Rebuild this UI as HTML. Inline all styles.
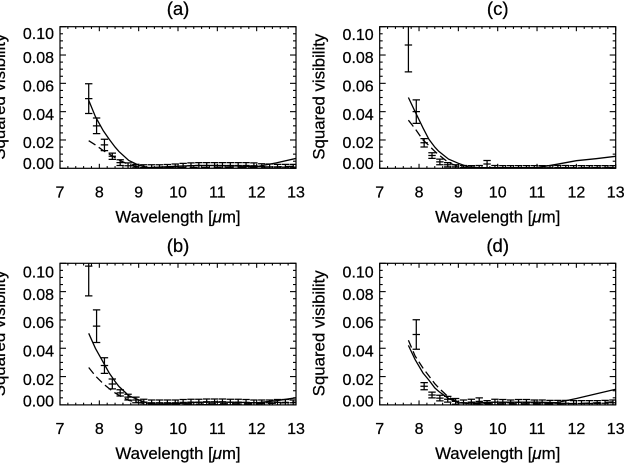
<!DOCTYPE html>
<html>
<head>
<meta charset="utf-8">
<title>Squared visibility panels</title>
<style>
html,body{margin:0;padding:0;background:#fff;}
svg{display:block;}
text{font-family:"Liberation Sans",sans-serif;font-size:16px;fill:#000;stroke:#000;stroke-width:0.25px;}
text.title{font-size:18.5px;}
text.axis-title{font-size:16.8px;}
</style>
</head>
<body>
<svg id="chart" xmlns="http://www.w3.org/2000/svg" width="624" height="463" viewBox="0 0 624 463"></svg>
<script>
const xTicks = [7, 8, 9, 10, 11, 12, 13];
const yTicks = [0, 0.02, 0.04, 0.06, 0.08, 0.10];
const yTickLabels = ['0.00', '0.02', '0.04', '0.06', '0.08', '0.10'];
const wavelengths = [7.73,7.93,8.13,8.33,8.53,8.73,8.93,9.13,9.33,9.53,9.73,9.93,10.13,10.33,10.53,10.73,10.93,11.13,11.33,11.53,11.73,11.93,12.13,12.33,12.53,12.73,12.93];
const modelWavelengths = [7.73,7.9,8.1,8.25,8.4,8.5,8.75,9,9.25,9.5,10,10.5,11,11.5,12,12.5,13];

const visA = [0.0492,0.0300,0.0165,0.0085,0.0040,0.0018,0.0008,0.0005,0.0005,0.0005,0.0007,0.0010,0.0015,0.0018,0.0020,0.0020,0.0020,0.0020,0.0020,0.0020,0.0020,0.0018,0.0012,0.0010,0.0008,0.0008,0.0008];
const errA = [0.0105,0.0055,0.0040,0.0022,0.0020,0.0020,0.0020,0.0020,0.0020,0.0020,0.0020,0.0020,0.0020,0.0020,0.0020,0.0020,0.0020,0.0020,0.0020,0.0020,0.0020,0.0020,0.0020,0.0020,0.0020,0.0020,0.0020];
const solidA = [0.0480,0.0365,0.0265,0.0205,0.0150,0.0118,0.0055,0.0022,0.0006,0.0008,0.0015,0.0020,0.0020,0.0016,0.0012,0.0038,0.0070];
const dashedA = [0.0195,0.0165,0.0125,0.0100,0.0075,0.0058,0.0027,0.0010,0.0003,0.0003,0.0004,0.0006,0.0007,0.0007,0.0007,0.0010,0.0015];

const visB = [0.0980,0.0556,0.0278,0.0148,0.0085,0.0055,0.0035,0.0020,0.0015,0.0015,0.0015,0.0015,0.0018,0.0020,0.0020,0.0022,0.0022,0.0022,0.0020,0.0020,0.0018,0.0015,0.0015,0.0015,0.0018,0.0018,0.0015];
const errB = [0.0210,0.0115,0.0055,0.0035,0.0022,0.0020,0.0020,0.0020,0.0020,0.0020,0.0020,0.0020,0.0020,0.0020,0.0020,0.0020,0.0020,0.0020,0.0020,0.0020,0.0020,0.0020,0.0020,0.0020,0.0020,0.0020,0.0020];
const solidB = [0.0506,0.0400,0.0300,0.0225,0.0165,0.0130,0.0065,0.0035,0.0010,0.0005,0.0010,0.0018,0.0020,0.0018,0.0015,0.0030,0.0050];
const dashedB = [0.0264,0.0205,0.0150,0.0115,0.0085,0.0068,0.0032,0.0016,0.0004,0.0003,0.0004,0.0006,0.0008,0.0008,0.0008,0.0012,0.0020];

const visC = [0.0871,0.0400,0.0180,0.0090,0.0045,0.0025,0.0010,0.0005,0.0004,0.0005,0.0030,0.0005,0.0004,0.0004,0.0004,0.0004,0.0004,0.0004,0.0004,0.0005,0.0005,0.0004,0.0004,0.0004,0.0004,0.0004,0.0004];
const errC = [0.0190,0.0083,0.0030,0.0020,0.0020,0.0015,0.0015,0.0015,0.0015,0.0015,0.0025,0.0015,0.0015,0.0015,0.0015,0.0015,0.0015,0.0015,0.0015,0.0015,0.0015,0.0015,0.0015,0.0015,0.0015,0.0015,0.0015];
const solidC = [0.0500,0.0400,0.0285,0.0205,0.0150,0.0120,0.0065,0.0035,0.0010,0.0005,0.0005,0.0005,0.0005,0.0028,0.0054,0.0068,0.0085];
const dashedC = [0.0340,0.0280,0.0200,0.0160,0.0120,0.0095,0.0040,0.0012,0.0003,0.0002,0.0002,0.0002,0.0002,0.0003,0.0004,0.0005,0.0006];

const visD = [null,0.0497,0.0132,0.0070,0.0048,0.0040,0.0025,0.0015,0.0020,0.0025,0.0010,0.0020,0.0018,0.0015,0.0018,0.0018,0.0015,0.0015,0.0012,0.0012,0.0012,0.0010,0.0010,0.0010,0.0010,0.0012,0.0015];
const errD = [0,0.0104,0.0025,0.0020,0.0020,0.0020,0.0020,0.0020,0.0020,0.0025,0.0020,0.0020,0.0020,0.0020,0.0020,0.0020,0.0020,0.0020,0.0020,0.0020,0.0020,0.0020,0.0020,0.0020,0.0020,0.0020,0.0020];
const solidD = [0.0420,0.0320,0.0225,0.0175,0.0120,0.0095,0.0045,0.0015,0.0012,0.0015,0.0020,0.0020,0.0020,0.0016,0.0045,0.0078,0.0110];
const dashedD = [0.0457,0.0345,0.0260,0.0205,0.0150,0.0120,0.0055,0.0020,0.0010,0.0008,0.0008,0.0008,0.0008,0.0008,0.0010,0.0015,0.0022];

const panelLabels = ['(a)', '(b)', '(c)', '(d)'];
const panelVis = [visA, visB, visC, visD];
const panelErr = [errA, errB, errC, errD];
const panelSolid = [solidA, solidB, solidC, solidD];
const panelDashed = [dashedA, dashedB, dashedC, dashedD];
const panelBoxes = [
  {left: 60, top: 26.7, labelTop: 6.6, labelBottom: 5},
  {left: 60, top: 263.3, labelTop: 8.3, labelBottom: 4.4},
  {left: 379.7, top: 26.7, labelTop: 7.4, labelBottom: 5},
  {left: 379.7, top: 263.3, labelTop: 8.3, labelBottom: 4.4}
];
const boxWidth = 236, boxHeight = 141.6;
const xMin = 7, xMax = 13, yMin = 0, yMax = 0.10;

const NS = 'http://www.w3.org/2000/svg';
const svg = document.getElementById('chart');
function make(parent, tag, attrs, text) {
  const el = document.createElementNS(NS, tag);
  for (const k in attrs) el.setAttribute(k, attrs[k]);
  if (text !== undefined) el.textContent = text;
  parent.appendChild(el);
  return el;
}

panelLabels.forEach(function (label, p) {
  const box = panelBoxes[p];
  const letter = label.charAt(1);
  const sx = function (v) { return box.left + (v - xMin) / (xMax - xMin) * boxWidth; };
  const sy = function (v) { return box.top + boxHeight - (v - yMin) / (yMax - yMin) * boxHeight; };
  const bottom = box.top + boxHeight, right = box.left + boxWidth;
  const g = make(svg, 'g', {});
  
  

  const title = make(g, 'text', {class: 'title', x: box.left + boxWidth / 2, y: box.top - 11.5, 'text-anchor': 'middle'}, label);
  
  

  const frame = make(g, 'rect', {x: box.left, y: box.top, width: boxWidth, height: boxHeight, fill: 'none', stroke: '#000', 'stroke-width': 1.2});
  
  

  const ticks = make(g, 'g', {stroke: '#000', 'stroke-width': 1.1});
  
  
  for (let k = 0; k <= 30; k++) {
    const v = xMin + k * 0.2;
    const x = sx(v), len = k % 5 === 0 ? 4.5 : 2.2;
    make(ticks, 'line', {x1: x, x2: x, y1: bottom, y2: bottom - len});
    make(ticks, 'line', {x1: x, x2: x, y1: box.top, y2: box.top + len});
  }
  for (let k = 0; k <= 20; k++) {
    const v = k * 0.005;
    const y = sy(v), len = k % 4 === 0 ? 6 : 3;
    make(ticks, 'line', {x1: box.left, x2: box.left + len, y1: y, y2: y});
    make(ticks, 'line', {x1: right, x2: right - len, y1: y, y2: y});
  }

  xTicks.forEach(function (t) {
    const el = make(g, 'text', {x: sx(t), y: bottom + 29, 'text-anchor': 'middle'}, String(t));
    
    
  });
  yTicks.forEach(function (t, i) {
    let cy = sy(t) + 2.4;
    if (i === yTicks.length - 1) cy = box.top + box.labelTop;
    if (i === 0) cy = bottom - box.labelBottom;
    const el = make(g, 'text', {x: box.left - 6, y: cy + 5.8, 'text-anchor': 'end'}, yTickLabels[i]);
    
    
  });

  const xTitle = make(g, 'text', {class: 'axis-title', x: box.left + boxWidth / 2, y: bottom + 54, 'text-anchor': 'middle'});
  
  
  make(xTitle, 'tspan', {}, 'Wavelength [');
  make(xTitle, 'tspan', {'font-style': 'italic'}, 'μ');
  make(xTitle, 'tspan', {}, 'm]');

  const yTitle = make(g, 'text', {
    class: 'axis-title',
    transform: 'translate(' + (box.left - 55) + ' ' + (box.top + 70) + ') rotate(-90)',
    'text-anchor': 'middle'
  }, 'Squared visibility');
  
  

  const clipId = 'clip-' + letter;
  const defs = make(g, 'defs', {});
  const clip = make(defs, 'clipPath', {id: clipId});
  make(clip, 'rect', {x: box.left, y: box.top, width: boxWidth, height: boxHeight});

  const plot = make(g, 'g', {'clip-path': 'url(#' + clipId + ')', fill: 'none', stroke: '#000'});
  
  

  const solidPts = modelWavelengths.map(function (w, i) { return sx(w).toFixed(1) + ',' + sy(panelSolid[p][i]).toFixed(1); }).join(' ');
  const solid = make(plot, 'polyline', {points: solidPts, 'stroke-width': 1.3});
  
  

  const dashedPts = modelWavelengths.map(function (w, i) { return sx(w).toFixed(1) + ',' + sy(panelDashed[p][i]).toFixed(1); }).join(' ');
  const dashed = make(plot, 'polyline', {points: dashedPts, 'stroke-width': 1.3, 'stroke-dasharray': '8 4'});
  
  

  wavelengths.forEach(function (w, i) {
    const v = panelVis[p][i];
    if (v === null) return;
    const e = panelErr[p][i];
    const x = sx(w);
    const bar = make(plot, 'g', {'stroke-width': 1.25});
    
    
    make(bar, 'line', {x1: x, x2: x, y1: sy(v + e), y2: sy(v - e)});
    make(bar, 'line', {x1: x - 3.7, x2: x + 3.7, y1: sy(v + e), y2: sy(v + e)});
    make(bar, 'line', {x1: x - 3.7, x2: x + 3.7, y1: sy(v - e), y2: sy(v - e)});
    make(bar, 'line', {x1: x - 3.7, x2: x + 3.7, y1: sy(v), y2: sy(v)});
  });
});
</script>
</body>
</html>
